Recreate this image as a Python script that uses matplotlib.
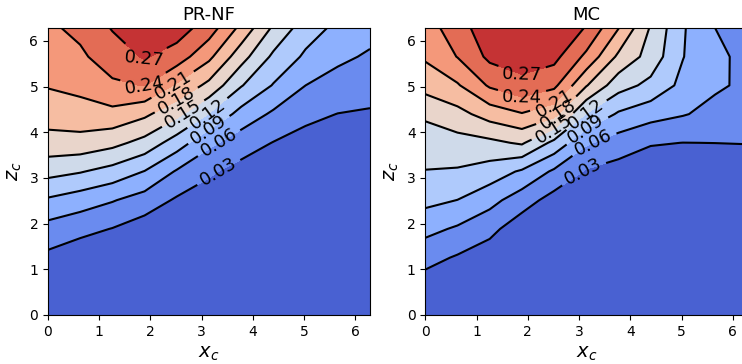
import numpy as np
import matplotlib
matplotlib.use("Agg")
import matplotlib.pyplot as plt

# grid (both axes 0 .. 2pi)
x_grid = np.linspace(0, 2 * np.pi, 11)
z_grid = np.linspace(0, 2 * np.pi, 11)

# values, one list per x column (z from bottom to top)
prnf_cols = [
    [0.004, 0.010, 0.023, 0.049, 0.086, 0.130, 0.169, 0.193, 0.212, 0.223, 0.235],
    [0.003, 0.008, 0.011, 0.039, 0.0745, 0.122, 0.169, 0.198, 0.218, 0.235, 0.247],
    [0.002, 0.006, 0.013, 0.029, 0.062, 0.109, 0.159, 0.201, 0.235, 0.255, 0.272],
    [0.001, 0.004, 0.009, 0.015, 0.047, 0.089, 0.140, 0.186, 0.241, 0.273, 0.290],
    [0.001, 0.003, 0.006, 0.012, 0.026, 0.057, 0.105, 0.158, 0.206, 0.256, 0.285],
    [0.001, 0.002, 0.004, 0.008, 0.017, 0.034, 0.067, 0.119, 0.172, 0.217, 0.255],
    [0.001, 0.001, 0.003, 0.005, 0.010, 0.020, 0.044, 0.079, 0.122, 0.162, 0.202],
    [0.001, 0.001, 0.002, 0.004, 0.008, 0.015, 0.029, 0.055, 0.088, 0.114, 0.145],
    [0.001, 0.001, 0.002, 0.003, 0.006, 0.011, 0.020, 0.037, 0.060, 0.085, 0.104],
    [0.001, 0.001, 0.002, 0.003, 0.005, 0.009, 0.018, 0.0295, 0.0486, 0.066, 0.083],
    [0.001, 0.001, 0.002, 0.003, 0.005, 0.009, 0.016, 0.027, 0.0415, 0.0563, 0.070],
]

mc_cols = [
    [0.006, 0.016, 0.040, 0.069, 0.098, 0.119, 0.135, 0.155, 0.191, 0.214, 0.228],
    [0.004, 0.012, 0.027, 0.056, 0.0896, 0.117, 0.139, 0.170, 0.207, 0.241, 0.254],
    [0.003, 0.008, 0.014, 0.0386, 0.070, 0.1065, 0.143, 0.193, 0.244, 0.277, 0.293],
    [0.002, 0.005, 0.010, 0.012, 0.044, 0.0858, 0.154, 0.208, 0.262, 0.283, 0.298],
    [0.001, 0.003, 0.006, 0.011, 0.018, 0.055, 0.112, 0.190, 0.247, 0.279, 0.295],
    [0.001, 0.002, 0.004, 0.007, 0.013, 0.027, 0.064, 0.119, 0.182, 0.233, 0.268],
    [0.001, 0.001, 0.003, 0.005, 0.009, 0.018, 0.046, 0.086, 0.132, 0.174, 0.211],
    [0.001, 0.001, 0.002, 0.004, 0.007, 0.014, 0.032, 0.0716, 0.112, 0.138, 0.147],
    [0.001, 0.001, 0.002, 0.003, 0.006, 0.012, 0.0298, 0.062, 0.082, 0.091, 0.093],
    [0.001, 0.001, 0.002, 0.003, 0.005, 0.011, 0.0302, 0.0515, 0.064, 0.065, 0.060],
    [0.001, 0.001, 0.002, 0.003, 0.005, 0.011, 0.031, 0.045, 0.055, 0.054, 0.048],
]

levels = np.linspace(0, 0.30, 11)
titles = ["PR-NF", "MC"]

fig = plt.figure(figsize=(7.42, 3.64), dpi=100)
ax1 = fig.add_axes([48 / 742, 49 / 364, 322 / 742, 287 / 364])
ax2 = fig.add_axes([425.3 / 742, 49 / 364, 322 / 742, 287 / 364])

X, Z = np.meshgrid(x_grid, z_grid)
for ax, cols, title in zip([ax1, ax2], [prnf_cols, mc_cols], titles):
    F = np.array(cols).T
    ax.contourf(X, Z, F, levels=levels, cmap="coolwarm")
    cs = ax.contour(X, Z, F, levels=levels[1:-1], colors="k", linewidths=1.5)
    ax.clabel(cs, inline=True, fontsize=13, fmt="%.2f")
    ax.set_xlim(0, 2 * np.pi)
    ax.set_ylim(0, 2 * np.pi)
    ax.set_xticks(range(7))
    ax.set_yticks(range(7))
    ax.tick_params(labelsize=10)
    ax.set_title(title, fontsize=13)
    ax.set_xlabel(r"$x_c$", fontsize=14)
    ax.set_ylabel(r"$z_c$", fontsize=14)

fig.savefig("out.png", dpi=100)
